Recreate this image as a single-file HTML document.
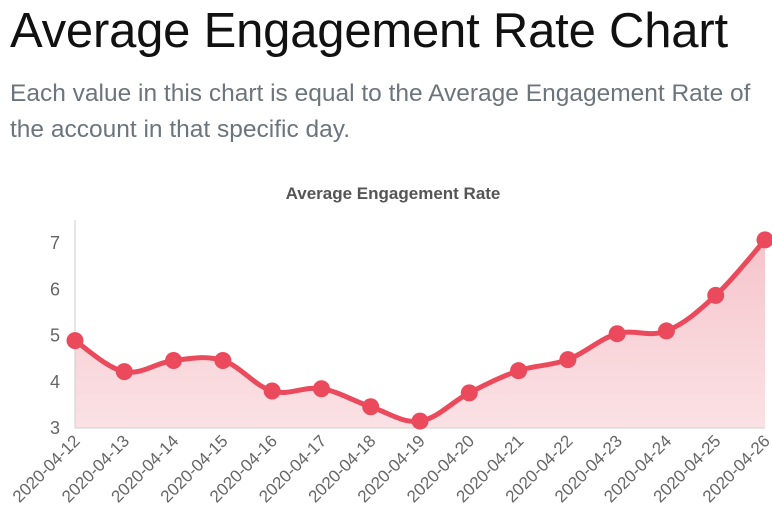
<!DOCTYPE html>
<html><head><meta charset="utf-8"><style>
body{margin:0;width:772px;height:529px;background:#fff;overflow:hidden;font-family:"Liberation Sans",sans-serif}
h1{position:absolute;left:10px;top:3px;margin:0;font-weight:400;font-size:49px;color:#111;letter-spacing:-0.2px;white-space:nowrap}
p{position:absolute;left:10px;top:76px;margin:0;width:750px;font-size:24.5px;line-height:36px;color:#6c757d}
svg{position:absolute;left:0;top:0}
</style></head><body>
<h1>Average Engagement Rate Chart</h1>
<p>Each value in this chart is equal to the Average Engagement Rate of the account in that specific day.</p>
<svg id="c" width="772" height="529"></svg>
<script>
const categories=["2020-04-12","2020-04-13","2020-04-14","2020-04-15","2020-04-16","2020-04-17","2020-04-18","2020-04-19","2020-04-20","2020-04-21","2020-04-22","2020-04-23","2020-04-24","2020-04-25","2020-04-26"];
const values=[4.89,4.22,4.46,4.46,3.8,3.85,3.46,3.15,3.76,4.24,4.48,5.04,5.1,5.87,7.07];
const yTicks=[3,4,5,6,7];
const NS="http://www.w3.org/2000/svg";
const svg=document.getElementById('c');
const x0=75,x1=765,yb=428,yMin=3,yMax=7.5,yt=220;
const X=i=>x0+(x1-x0)*i/(categories.length-1);
const Y=v=>yb-(v-yMin)/(yMax-yMin)*(yb-yt);
function mk(t,a){const e=document.createElementNS(NS,t);for(const k in a)e.setAttribute(k,a[k]);svg.appendChild(e);return e;}
const defs=mk('defs',{});
defs.innerHTML='<linearGradient id="g" x1="0" y1="0" x2="0" y2="1"><stop offset="0" stop-color="#f0a4ae" stop-opacity="0.65"/><stop offset="1" stop-color="#f7c9cf" stop-opacity="0.55"/></linearGradient>';
const t=mk('text',{x:393,y:199,'text-anchor':'middle','font-size':17,'font-weight':'bold',fill:'#555'});
t.textContent='Average Engagement Rate';


const ax=mk('line',{x1:x0,y1:yt,x2:x0,y2:yb,stroke:'#ddd','stroke-width':1.5});


const bx=mk('line',{x1:x0,y1:yb,x2:x1,y2:yb,stroke:'#ddd','stroke-width':1.5});


yTicks.forEach(v=>{const e=mk('text',{x:60,y:Y(v)+6,'text-anchor':'end','font-size':18,fill:'#666'});e.textContent=v;

});
categories.forEach((c,i)=>{const e=mk('text',{x:0,y:0,'text-anchor':'end','font-size':17,fill:'#666',transform:`translate(${X(i)+6},${yb+14}) rotate(-45)`});e.textContent=c;

});
const pts=values.map((v,i)=>[X(i),Y(v)]);
let d=`M${pts[0][0]},${pts[0][1]}`;const k=0.18;
for(let i=0;i<pts.length-1;i++){const p0=pts[i-1]||pts[i],p1=pts[i],p2=pts[i+1],p3=pts[i+2]||p2;
d+=` C${p1[0]+(p2[0]-p0[0])*k},${p1[1]+(p2[1]-p0[1])*k} ${p2[0]-(p3[0]-p1[0])*k},${p2[1]-(p3[1]-p1[1])*k} ${p2[0]},${p2[1]}`;}
const area=mk('path',{d:d+` L${pts[pts.length-1][0]},${yb} L${pts[0][0]},${yb} Z`,fill:'url(#g)'});


const ln=mk('path',{d:d,fill:'none',stroke:'#ea4a5c','stroke-width':5});


pts.forEach(p=>{const e=mk('circle',{cx:p[0],cy:p[1],r:8.5,fill:'#ea4a5c'});

});
</script>
</body></html>
